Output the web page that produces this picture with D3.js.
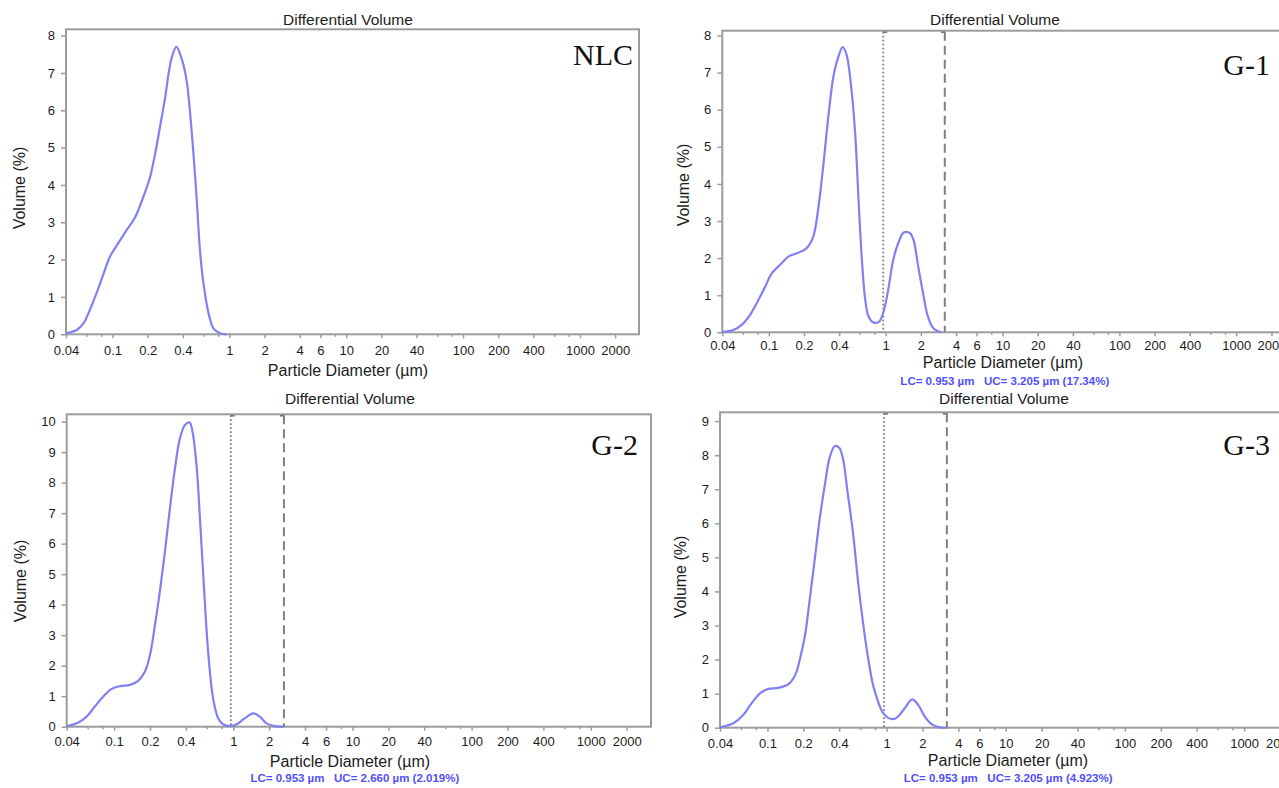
<!DOCTYPE html>
<html>
<head>
<meta charset="utf-8">
<script src="https://cdn.jsdelivr.net/npm/d3@7/dist/d3.min.js"></script>
<style>
  html, body { margin: 0; padding: 0; background: #fff; }
  svg { display: block; }
</style>
</head>
<body>
<svg id="chart" width="1279" height="788"></svg>
<script>
// ---- particle size distributions (diameter in µm, differential volume in %) ----
const nlcDiameter = [0.04, 0.0418, 0.0495, 0.0564, 0.064, 0.073, 0.084, 0.095, 0.112, 0.132, 0.157, 0.184, 0.21, 0.232, 0.255, 0.283, 0.302, 0.323, 0.352, 0.39, 0.43, 0.459, 0.49, 0.526, 0.56, 0.6, 0.664, 0.73, 0.83, 0.95];
const nlcVolume   = [0.02, 0.04, 0.115, 0.29, 0.65, 1.1, 1.63, 2.08, 2.44, 2.79, 3.15, 3.69, 4.22, 4.85, 5.56, 6.37, 6.99, 7.44, 7.70, 7.39, 6.81, 6.0, 4.94, 3.6, 2.26, 1.37, 0.56, 0.16, 0.03, 0];

const g1Diameter = [0.04, 0.0422, 0.0497, 0.0586, 0.0692, 0.0815, 0.0931, 0.106, 0.125, 0.147, 0.174, 0.211, 0.24, 0.264, 0.292, 0.323, 0.357, 0.394, 0.429, 0.463, 0.503, 0.548, 0.586, 0.626, 0.669, 0.715, 0.79, 0.88, 0.96, 1.05, 1.16, 1.28, 1.43, 1.62, 1.73, 1.9, 2.09, 2.3, 2.56, 3.0];
const g1Volume   = [0.01, 0.02, 0.06, 0.2, 0.47, 0.87, 1.23, 1.59, 1.82, 2.04, 2.13, 2.27, 2.58, 3.30, 4.47, 5.81, 6.89, 7.43, 7.69, 7.48, 6.72, 5.37, 3.57, 1.95, 0.87, 0.42, 0.26, 0.29, 0.56, 1.14, 1.95, 2.4, 2.69, 2.67, 2.49, 1.77, 1.05, 0.42, 0.11, 0];

const g2Diameter = [0.04, 0.0413, 0.0502, 0.0588, 0.0689, 0.0807, 0.0954, 0.112, 0.136, 0.159, 0.181, 0.2, 0.22, 0.242, 0.267, 0.294, 0.324, 0.357, 0.393, 0.43, 0.455, 0.494, 0.525, 0.566, 0.615, 0.677, 0.746, 0.82, 0.94, 1.07, 1.25, 1.47, 1.67, 1.9, 2.24, 2.66];
const g2Volume   = [0.02, 0.03, 0.14, 0.33, 0.66, 0.98, 1.24, 1.33, 1.37, 1.5, 1.8, 2.35, 3.33, 4.43, 5.74, 7.16, 8.47, 9.46, 9.89, 9.97, 9.67, 8.47, 6.83, 4.65, 2.46, 0.93, 0.28, 0.08, 0.02, 0.08, 0.28, 0.44, 0.33, 0.11, 0.02, 0];

const g3Diameter = [0.04, 0.0413, 0.0518, 0.0626, 0.0737, 0.0866, 0.102, 0.124, 0.149, 0.171, 0.188, 0.207, 0.227, 0.25, 0.275, 0.303, 0.334, 0.368, 0.4, 0.43, 0.47, 0.525, 0.58, 0.638, 0.7, 0.77, 0.85, 0.94, 1.11, 1.24, 1.42, 1.64, 1.84, 2.1, 2.4, 2.8, 3.205];
const g3Volume   = [0.01, 0.02, 0.13, 0.37, 0.72, 1.01, 1.14, 1.17, 1.27, 1.55, 2.04, 2.72, 3.8, 4.97, 6.15, 7.12, 7.95, 8.27, 8.22, 7.91, 6.93, 5.66, 4.19, 3.01, 2.04, 1.25, 0.76, 0.42, 0.25, 0.32, 0.57, 0.83, 0.67, 0.32, 0.1, 0.01, 0];

// ---- lower / upper cut-offs and the volume between them ----
const g1Cut = [0.953, 3.205, 17.34];
const g2Cut = [0.953, 2.660, 2.019];
const g3Cut = [0.953, 3.205, 4.923];
const cutText = ["0.953", "3.205", "17.34", "0.953", "2.660", "2.019", "0.953", "3.205", "4.923"];

// ---- axis ticks ----
const xTickValues = [0.04, 0.1, 0.2, 0.4, 1, 2, 4, 6, 10, 20, 40, 100, 200, 400, 1000, 2000];
const xTickLabels = ["0.04", "0.1", "0.2", "0.4", "1", "2", "4", "6", "10", "20", "40", "100", "200", "400", "1000", "2000"];
const xMinorTicks = [0.06, 0.08, 0.6, 0.8, 8, 60, 80, 600, 800];
const xDomain = [0.04, 3200];

const nlcYTicks = [0, 1, 2, 3, 4, 5, 6, 7, 8];
const g1YTicks  = [0, 1, 2, 3, 4, 5, 6, 7, 8];
const g2YTicks  = [0, 1, 2, 3, 4, 5, 6, 7, 8, 9, 10];
const g3YTicks  = [0, 1, 2, 3, 4, 5, 6, 7, 8, 9];
const yTop = [8.17, 8.13, 10.24, 9.26];

const panelNames = ["NLC", "G-1", "G-2", "G-3"];
const chartTitle = "Differential Volume";
const xTitle = "Particle Diameter (\u00b5m)";
const yTitle = "Volume (%)";

// ---- panel layout (pixels) ----
const layout = [
  { left: 66,    right: 639,    top: 29.3,  bottom: 334.3, titleX: 348,  titleY: 20,  tickDy: 16, xTitleX: 348,  xTitleDy: 36, cutDy: 0,  yTitleX: 19,  yTitleY: 188, nameX: 633,  nameY: 65 },
  { left: 722.3, right: 1295.3, top: 30.7,  bottom: 332.3, titleX: 995,  titleY: 20,  tickDy: 13, xTitleX: 1003, xTitleDy: 30, cutDy: 49, yTitleX: 683, yTitleY: 185, nameX: 1270, nameY: 75 },
  { left: 66.7,  right: 651,    top: 414.3, bottom: 726.7, titleX: 350,  titleY: 399, tickDy: 15, xTitleX: 350,  xTitleDy: 35, cutDy: 51, yTitleX: 20,  yTitleY: 581, nameX: 638,  nameY: 455 },
  { left: 720,   right: 1304.3, top: 412.3, bottom: 727.7, titleX: 1004, titleY: 399, tickDy: 16, xTitleX: 1008, xTitleDy: 33, cutDy: 50, yTitleX: 680, yTitleY: 577, nameX: 1270, nameY: 455 }
];

const panels = [
  { diameter: nlcDiameter, volume: nlcVolume, yTicks: nlcYTicks, cut: null },
  { diameter: g1Diameter,  volume: g1Volume,  yTicks: g1YTicks,  cut: g1Cut },
  { diameter: g2Diameter,  volume: g2Volume,  yTicks: g2YTicks,  cut: g2Cut },
  { diameter: g3Diameter,  volume: g3Volume,  yTicks: g3YTicks,  cut: g3Cut }
];

const SANS = "'Liberation Sans', Arial, sans-serif";
const SERIF = "'Liberation Serif', 'Times New Roman', serif";
const curveColor = "#8080f2";
const frameColor = "#9c9c9c";
const textColor = "#1c1c1c";

const svg = d3.select("#chart").style("font-family", SANS);

panels.forEach((p, i) => {
  const L = layout[i];
  const x = d3.scaleLog().domain(xDomain).range([L.left, L.right]);
  const y = d3.scaleLinear().domain([0, yTop[i]]).range([L.bottom, L.top]);
  const g = svg.append("g");

  // title
  g.append("text")
    .attr("x", L.titleX).attr("y", L.titleY).attr("dy", "0.35em")
    .attr("text-anchor", "middle").attr("font-size", 15.5).attr("fill", textColor)
    .style("font-family", SANS)
    .text(chartTitle);

  // x axis: labelled ticks
  const xAxis = g.append("g").attr("transform", `translate(0,${L.bottom})`)
    .call(d3.axisBottom(x).tickValues(xTickValues).tickSize(4)
      .tickFormat((d, k) => xTickLabels[k]));
  xAxis.select(".domain").remove();
  xAxis.selectAll("line").attr("stroke", frameColor).attr("stroke-width", 1.5);
  xAxis.selectAll("text")
    .attr("y", L.tickDy).attr("dy", "0.35em")
    .attr("font-size", 13).attr("fill", textColor)
    .style("font-family", SANS);

  // x axis: minor ticks
  const xMinor = g.append("g").attr("transform", `translate(0,${L.bottom})`)
    .call(d3.axisBottom(x).tickValues(xMinorTicks).tickSize(2.5).tickFormat(""));
  xMinor.select(".domain").remove();
  xMinor.selectAll("line").attr("stroke", frameColor).attr("stroke-width", 1.5);

  // y axis
  const yAxis = g.append("g").attr("transform", `translate(${L.left},0)`)
    .call(d3.axisLeft(y).tickValues(p.yTicks).tickSize(5).tickPadding(6).tickFormat(d3.format("d")));
  yAxis.select(".domain").remove();
  yAxis.selectAll("line").attr("stroke", frameColor).attr("stroke-width", 1.5);
  yAxis.selectAll("text")
    .attr("font-size", 13).attr("fill", textColor)
    .style("font-family", SANS);

  // plot frame
  g.append("rect")
    .attr("x", L.left).attr("y", L.top)
    .attr("width", L.right - L.left).attr("height", L.bottom - L.top)
    .attr("fill", "none").attr("stroke", frameColor).attr("stroke-width", 2);

  // axis titles
  g.append("text")
    .attr("x", L.xTitleX).attr("y", L.bottom + L.xTitleDy).attr("dy", "0.35em")
    .attr("text-anchor", "middle").attr("font-size", 16).attr("fill", textColor)
    .style("font-family", SANS)
    .text(xTitle);
  g.append("text")
    .attr("transform", `translate(${L.yTitleX},${L.yTitleY}) rotate(-90)`)
    .attr("dy", "0.35em")
    .attr("text-anchor", "middle").attr("font-size", 16).attr("fill", textColor)
    .style("font-family", SANS)
    .text(yTitle);

  // cut-off markers
  if (p.cut) {
    const lc = p.cut[0], uc = p.cut[1];
    const markers = g.append("g");
    markers.append("line")
      .attr("x1", x(lc)).attr("x2", x(lc)).attr("y1", L.top + 1).attr("y2", L.bottom)
      .attr("stroke", "#808080").attr("stroke-width", 1.8).attr("stroke-dasharray", "1.8,2.2");
    markers.append("line")
      .attr("x1", x(lc)).attr("x2", x(lc) + 4).attr("y1", L.top + 1.5).attr("y2", L.top + 1.5)
      .attr("stroke", "#707070").attr("stroke-width", 1.5);
    markers.append("line")
      .attr("x1", x(uc)).attr("x2", x(uc)).attr("y1", L.top + 1).attr("y2", L.bottom)
      .attr("stroke", "#808080").attr("stroke-width", 2).attr("stroke-dasharray", "9,5");
    markers.append("line")
      .attr("x1", x(uc) - 4).attr("x2", x(uc)).attr("y1", L.top + 1.5).attr("y2", L.top + 1.5)
      .attr("stroke", "#707070").attr("stroke-width", 1.5);

    const k = (i - 1) * 3;
    g.append("text")
      .attr("x", (x(xDomain[0]) + x(xDomain[1])) / 2 - 4)
      .attr("y", L.bottom + L.cutDy).attr("dy", "0.35em")
      .attr("text-anchor", "middle").attr("font-size", 11.5).attr("font-weight", "bold")
      .attr("fill", "#5050ff")
      .style("font-family", SANS)
      .style("white-space", "pre")
      .text(`LC= ${cutText[k]} \u00b5m   UC= ${cutText[k + 1]} \u00b5m (${cutText[k + 2]}%)`);
  }

  // distribution curve
  const line = d3.line()
    .x((d, k) => x(p.diameter[k]))
    .y(d => y(Math.max(0, d)))
    .curve(d3.curveCatmullRom.alpha(0.5));
  g.append("path")
    .datum(p.volume)
    .attr("d", line)
    .attr("fill", "none").attr("stroke", curveColor)
    .attr("stroke-width", 2.2).attr("stroke-linejoin", "round");

  // sample name
  g.append("text")
    .attr("x", L.nameX).attr("y", L.nameY)
    .attr("text-anchor", "end")
    .style("font-family", SERIF)
    .attr("font-size", 30).attr("fill", "#111")
    .text(panelNames[i]);
});
</script>
</body>
</html>
